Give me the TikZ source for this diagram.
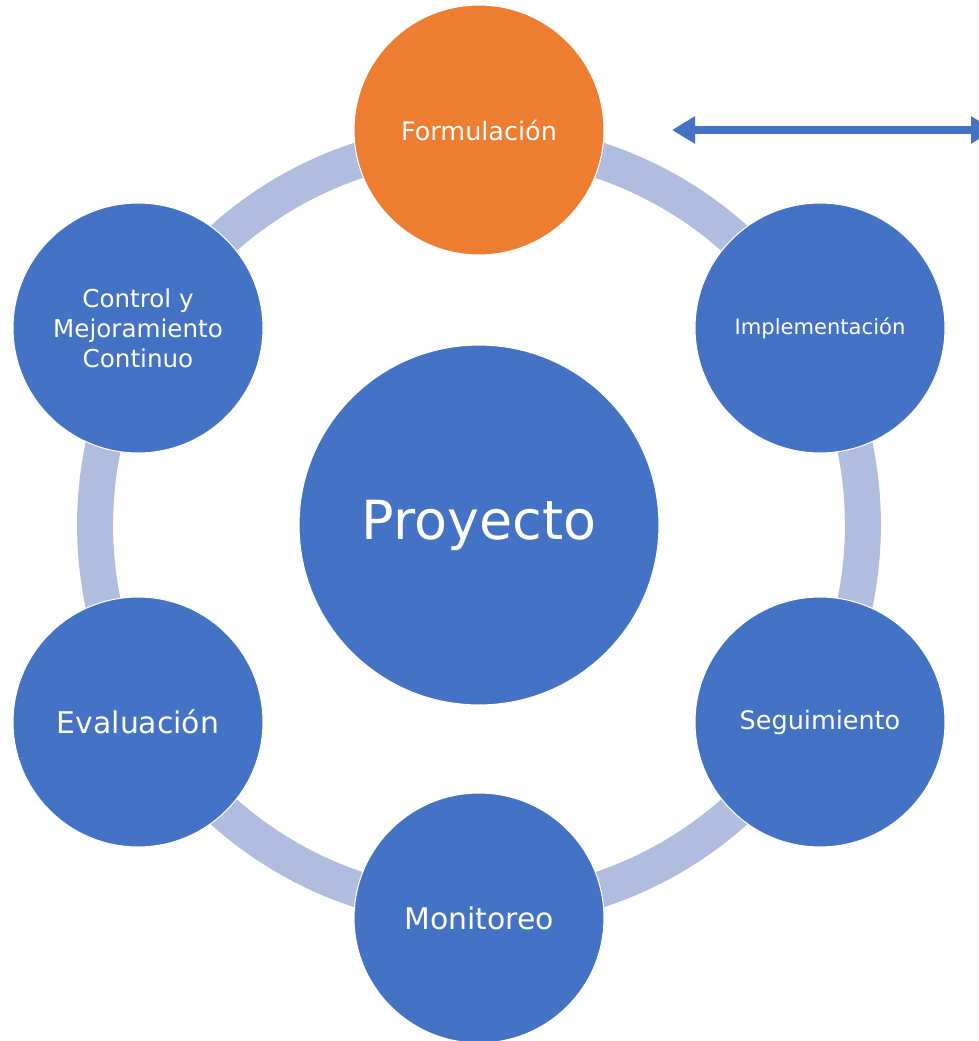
\documentclass[tikz,border=0pt]{standalone}
\usepackage{fontspec}
\setmainfont{DejaVu Sans}
\usetikzlibrary{arrows.meta}
\definecolor{stageblue}{HTML}{4472C4}
\definecolor{stageorange}{HTML}{ED7D31}
\definecolor{ringgray}{HTML}{B0BDDF}
\begin{document}
\begin{tikzpicture}[x={(0.02cm,0cm)},y={(0cm,-0.02cm)},
  stage/.style={circle,fill=stageblue,draw=white,line width=0.6pt,text=white,minimum size=5cm,inner sep=0pt,align=center},
  every node/.style={outer sep=0pt}]
\clip (0,0) rectangle (979,1041);
\draw[ringgray,line width=0.72cm] (479,525) circle[radius=7.68cm];
\node[stage,minimum size=7.2cm,font=\fontsize{30.7}{36}\selectfont] (proy) at (479,525) {Proyecto};
\node[stage,fill=stageorange,font=\fontsize{14.5}{17}\selectfont] (form) at (479,130) {Formulación};
\node[stage,font=\fontsize{12}{14}\selectfont] (impl) at (820,328) {Implementación};
\node[stage,font=\fontsize{14.5}{17}\selectfont] (segu) at (820,722) {Seguimiento};
\node[stage,font=\fontsize{17}{20}\selectfont] (moni) at (479,918) {Monitoreo};
\node[stage,font=\fontsize{17}{20}\selectfont] (eval) at (138,722) {Evaluación};
\node[stage,font=\fontsize{14}{17}\selectfont] (ctrl) at (138,328) {Control y\\Mejoramiento\\Continuo};
\coordinate (arrL) at (672,130);
\coordinate (arrR) at (994,130);
\draw[stageblue,line width=0.16cm,{Triangle[length=0.46cm,width=0.52cm]}-{Triangle[length=0.46cm,width=0.52cm]}] (arrL) -- (arrR);
\end{tikzpicture}
\end{document}
